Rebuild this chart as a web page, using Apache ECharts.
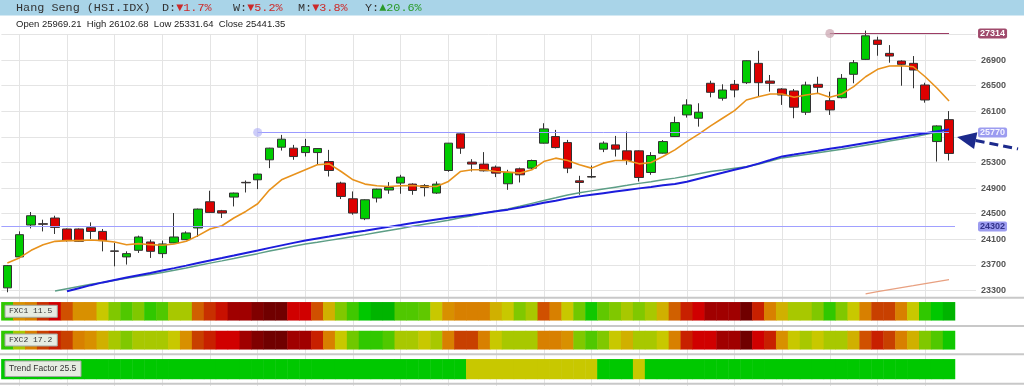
<!DOCTYPE html>
<html><head><meta charset="utf-8">
<script src="https://cdn.jsdelivr.net/npm/echarts@6/dist/echarts.min.js"></script>
<style>html,body{margin:0;padding:0;background:#fff;overflow:hidden}#c{width:1024px;height:386px}</style>
</head><body><div id="c"></div>
<script>
// ---------- DATA ----------
const categories = Array.from({length: 80}, (_, i) => 'D' + (i + 1));
const opens = [23343,23826,24324,24345,24433,24262,24262,24282,24224,23920,
  23826,23929,24059,23877,24044,24095,24278,24687,24547,24760,
  24990,25030,25342,25539,25524,25455,25455,25315,24979,24734,
  24422,24745,24870,24979,24963,24941,24823,25175,25747,25306,
  25275,25228,24968,25201,25212,25602,25705,25611,25014,25081,
  25508,25575,25482,25482,25144,25446,25705,26043,25991,26537,
  26303,26521,26546,26848,26572,26448,26417,26085,26521,26265,
  26312,26677,26910,27211,27004,26884,26848,26510,25627,25969.21];
const closes = [23690,24173,24469,24335,24287,24080,24069,24224,24080,23913,
  23877,24137,23913,24028,24137,24200,24573,24521,24511,24823,
  24983,25119,25524,25664,25393,25549,25518,25175,24770,24511,
  24718,24885,24910,25072,24863,24910,24963,25602,25524,25275,
  25170,25134,25144,25108,25331,25825,25533,25212,24988,25072,
  25602,25508,25331,25066,25409,25627,25923,26199,26085,26396,
  26432,26432,26889,26546,26537,26354,26163,26510,26474,26121,
  26614,26858,27278,27144,26962,26833,26744,26276,25871,25441.35];
const lows = [23274,23810,24271,24224,24184,24065,24060,24106,23913,23679,
  23706,23888,23810,23810,24040,24090,24137,24515,24433,24614,
  24832,24885,25212,25486,25342,25393,25264,25081,24729,24485,
  24400,24676,24812,24812,24796,24770,24810,25155,25435,25159,
  25159,25072,24874,24988,25186,25595,25520,25134,24796,25056,
  25462,25393,25264,25003,25108,25440,25700,26001,25860,26318,
  26266,26318,26525,26328,26406,26199,25991,26043,26381,26043,
  26300,26537,26900,26967,26858,26499,26459,26234,25315,25331.64];
const highs = [23700,24225,24527,24407,24469,24270,24270,24365,24262,24044,
  23913,24158,24095,24080,24511,24225,24580,24859,24560,24830,
  25019,25125,25530,25731,25575,25669,25525,25497,25000,24848,
  24725,24890,24994,25108,24975,24963,25003,25605,25755,25352,
  25462,25253,25186,25220,25345,25913,25809,25653,25092,25253,
  25630,25715,25783,25490,25462,25650,26016,26287,26225,26577,
  26521,26588,26895,27044,26666,26460,26448,26562,26639,26406,
  26681,26900,27360,27263,27133,26895,26962,26545,25880,26102.68];
const maShort = [23732,23810,23929,24017,24069,24080,24080,24090,24080,24059,
  24017,24033,24017,24007,24028,24069,24158,24262,24313,24433,
  24536,24656,24874,25030,25108,25186,25264,25279,25159,25030,
  24963,24937,24926,24937,24941,24926,24926,25004,25159,25186,
  25186,25159,25150,25134,25186,25315,25368,25331,25264,25212,
  25290,25331,25331,25279,25300,25393,25497,25627,25742,25871,
  25991,26110,26276,26328,26370,26370,26318,26354,26381,26318,
  26370,26484,26639,26755,26806,26811,26795,26639,26459,26261];
const maBlue = [null,null,null,null,null,23290,23338,23385,23428,23466,
  23503,23540,23576,23614,23651,23690,23731,23770,23808,23847,
  23888,23927,23967,24006,24045,24081,24112,24143,24175,24206,
  24235,24265,24295,24324,24354,24383,24411,24436,24461,24486,
  24513,24538,24564,24598,24634,24670,24704,24740,24771,24796,
  24821,24846,24871,24896,24919,24943,24966,25000,25047,25094,
  25139,25186,25231,25282,25338,25395,25424,25454,25483,25513,
  25542,25574,25605,25636,25667,25697,25728,25758,25787,25815];
const maTeal = [null,null,null,null,23294,23329,23364,23399,23426,23460,
  23491,23523,23553,23584,23618,23654,23692,23729,23764,23800,
  23840,23877,23917,23955,23992,24026,24054,24084,24114,24144,
  24174,24207,24240,24271,24303,24335,24366,24400,24436,24470,
  24508,24543,24576,24618,24662,24706,24748,24791,24827,24857,
  24886,24915,24944,24974,25000,25029,25056,25089,25125,25161,
  25184,25209,25233,25274,25322,25372,25398,25424,25452,25480,
  25508,25538,25571,25602,25634,25666,25697,25736,25776,25815];
const maSlow = [null,null,null,null,null,null,null,null,null,null,
  null,null,null,null,null,null,null,null,null,null,
  null,null,null,null,null,null,null,null,null,null,
  null,null,null,null,null,null,null,null,null,null,
  null,null,null,null,null,null,null,null,null,null,
  null,null,null,null,null,null,null,null,null,null,
  null,null,null,null,null,null,null,null,null,null,
  null,null,23250,23283,23315,23347,23378,23410,23441,23472];
const yTicks = [23300,23700,24100,24500,24900,25300,25700,26100,26500,26900,27300];
const yTickLabels = [23300,23700,24100,24500,24900,25300,26100,26500,26900];
const xGridTicks = [1,5,9,13,17,21,25,29,33,37,41,45,49,53,57,61,65,69,73,77];
const levelMax = 27314, levelMaxFrom = 69;
const levelRes = 25770, levelResFrom = 21;
const levelSup = 24302;
const arrowTarget = 25700;
// heat levels (index into palette: 0 = green ... 24 = dark red)
const fxc1 = [3,12,13,18,21,16,12,12,10,8, 5,8,3,5,9,9,15,18,20,22,
  22,23,24,24,21,21,16,11,8,4, 1,0,0,5,5,6,10,12,13,13,
  13,11,10,8,9,16,13,10,7,2, 6,8,9,8,9,11,15,19,21,22,
  22,22,24,19,13,11,9,9,8,3, 8,10,13,17,17,13,10,3,1,0];
const fxc2 = [3,9,13,17,19,17,13,12,11,9, 8,9,9,9,10,12,17,19,21,21,
  22,23,24,24,22,22,19,13,10,7, 3,3,5,9,9,10,9,13,17,17,
  13,10,9,9,9,13,13,12,8,5, 8,10,11,9,9,10,13,19,21,21,
  22,22,24,21,19,12,10,9,10,9, 9,11,16,19,17,13,11,8,5,2];
const trend = [1,1,1,1,1,1,1,1,1,1, 1,1,1,1,1,1,1,1,1,1,
  1,1,1,1,1,1,1,1,1,1, 1,1,1,1,1,1,1,1,1,10,
  10,10,10,10,10,10,10,10,10,10, 1,1,1,10,1,1,1,1,1,1,
  1,1,1,1,1,1,1,1,1,1, 1,1,1,1,1,1,1,1,1,1];
const headerName = 'Hang Seng (HSI.IDX)';
const headerStats = [['D:', '▼1.7%', false], ['W:', '▼5.2%', false], ['M:', '▼3.8%', false], ['Y:', '▲20.6%', true]];
const ohlcText = 'Open 25969.21  High 26102.68  Low 25331.64  Close 25441.35';
const rowLabels = ['FXC1 11.5', 'FXC2 17.2', 'Trend Factor 25.5'];

// ---------- STYLE ----------
const heatPalette = ['#00b400','#00c800','#10c800','#30c800','#40c800','#50c800','#60c800','#70c800','#80c800','#a8c800',
  '#c8c800','#d0b000','#d89000','#d88000','#d87000','#d06000','#d05000','#c84000','#c83000','#c82000',
  '#c81000','#d00000','#a00000','#800000','#700000'];
const gridColor = '#e4e4e4';
const L = 1.4, W = 953.6;

const chart = echarts.init(document.getElementById('c'), null, {renderer: 'canvas', width: 1024, height: 386});

const candleData = opens.map((o, i) => [o, closes[i], lows[i], highs[i]]);
const heat = arr => arr.map((v, i) => [i, 0, v]);
const boxLabel = (txt, bg, fg, dist) => ({
  show: true, position: 'end', distance: dist, formatter: String(txt), backgroundColor: bg, color: fg,
  padding: [1, 2, 0, 2], borderRadius: 2, fontSize: 9, fontWeight: 'bold', fontFamily: 'Liberation Sans'
});

const option = {
  animation: false,
  grid: [
    {left: L, top: 28, width: W, height: 269, outerBoundsMode: 'none'},
    {left: L, top: 28, width: 974.6, height: 269, outerBoundsMode: 'none'},
    {left: L, top: 34.4, width: W, height: 351.6, outerBoundsMode: 'none'},
    {left: L, top: 302.3, width: W, height: 18, outerBoundsMode: 'none'},
    {left: L, top: 331, width: W, height: 18.3, outerBoundsMode: 'none'},
    {left: L, top: 359.3, width: W, height: 19.7, outerBoundsMode: 'none'}
  ],
  xAxis: [
    {gridIndex: 0, type: 'category', data: categories, boundaryGap: true, show: false},
    {gridIndex: 1, type: 'value', min: 0, max: 1, show: false},
    {gridIndex: 2, type: 'value', min: -0.5, max: 79.5, axisLine: {show: false}, axisLabel: {show: false},
      axisTick: {show: false, customValues: xGridTicks}, splitLine: {show: true, lineStyle: {color: gridColor, width: 1}}},
    {gridIndex: 3, type: 'category', data: categories, show: false},
    {gridIndex: 4, type: 'category', data: categories, show: false},
    {gridIndex: 5, type: 'category', data: categories, show: false}
  ],
  yAxis: [
    {gridIndex: 0, type: 'value', min: 23200, max: 27400, show: false},
    {gridIndex: 1, type: 'value', min: 23200, max: 27400, position: 'right', axisLine: {show: false},
      axisTick: {show: false, customValues: yTicks},
      axisLabel: {customValues: yTickLabels, formatter: v => String(v), margin: 5, fontSize: 9, fontWeight: 'bold', color: '#555', fontFamily: 'Liberation Sans'},
      splitLine: {show: true, lineStyle: {color: gridColor, width: 1}}},
    {gridIndex: 2, type: 'value', min: 0, max: 1, show: false},
    {gridIndex: 3, type: 'category', data: ['FXC1'], show: false},
    {gridIndex: 4, type: 'category', data: ['FXC2'], show: false},
    {gridIndex: 5, type: 'category', data: ['Trend'], show: false}
  ],
  visualMap: [{type: 'continuous', show: false, seriesIndex: [5, 6, 7], dimension: 2, min: 0, max: 24,
    inRange: {color: heatPalette}}],
  series: [
    {type: 'candlestick', xAxisIndex: 0, yAxisIndex: 0, data: candleData, barWidth: 9, z: 3,
      itemStyle: {color: '#00cc00', color0: '#dd0000', borderColor: '#333', borderColor0: '#333', borderWidth: 1},
      markLine: {silent: true, symbol: ['none', 'none'], animation: false, z: 5,
        data: [
          [{coord: [levelMaxFrom, levelMax], lineStyle: {color: '#9c3c64', width: 1, type: 'solid'},
            label: boxLabel(levelMax, '#a04a6c', '#ffffff', 29)},
           {coord: [79, levelMax]}],
          [{coord: [levelResFrom, levelRes], lineStyle: {color: '#9a9aff', width: 1, type: 'solid'},
            label: boxLabel(levelRes, '#9c9cf0', '#f4f4ff', 29)},
           {coord: [79, levelRes]}],
          {yAxis: levelSup, lineStyle: {color: '#a0a0ff', width: 1, type: 'solid'},
            label: boxLabel(levelSup, '#9c9cf0', '#33338a', 23)}
        ]}},
    {type: 'line', xAxisIndex: 0, yAxisIndex: 0, data: maShort, showSymbol: false, z: 4,
      lineStyle: {color: '#e8921c', width: 1.6}},
    {type: 'line', xAxisIndex: 0, yAxisIndex: 0, data: maTeal, showSymbol: false, z: 4,
      lineStyle: {color: '#5c9e86', width: 1.5}},
    {type: 'line', xAxisIndex: 0, yAxisIndex: 0, data: maBlue, showSymbol: false, z: 4,
      lineStyle: {color: '#1c1cdc', width: 2}},
    {type: 'line', xAxisIndex: 0, yAxisIndex: 0, data: maSlow, showSymbol: false, z: 4,
      lineStyle: {color: '#e8a080', width: 1.2}},
    {type: 'heatmap', xAxisIndex: 3, yAxisIndex: 3, data: heat(fxc1)},
    {type: 'heatmap', xAxisIndex: 4, yAxisIndex: 4, data: heat(fxc2)},
    {type: 'heatmap', xAxisIndex: 5, yAxisIndex: 5, data: heat(trend)},
    {type: 'scatter', xAxisIndex: 0, yAxisIndex: 0, symbolSize: 9, z: 6, silent: true,
      data: [
        {value: [levelMaxFrom, levelMax], itemStyle: {color: 'rgba(200,160,172,0.85)'}},
        {value: [levelResFrom, levelRes], itemStyle: {color: 'rgba(175,175,245,0.8)'}}
      ]}
  ]
};
chart.setOption(option);

// ---------- annotations ----------
const g = [];
g.push({type: 'rect', shape: {x: 0, y: 0, width: 1024, height: 15.5}, style: {fill: '#a9d4e8'}, z: 100});
const monoFont = '11.8px "Liberation Mono", monospace';
g.push({type: 'text', z: 101, style: {x: 16, y: 8, text: headerName, font: monoFont, fill: '#333', verticalAlign: 'middle'}});
const statX = [162, 233, 298, 365];
headerStats.forEach((s, k) => {
  g.push({type: 'text', z: 101, style: {x: statX[k], y: 8, verticalAlign: 'middle',
    text: '{a|' + s[0] + '}{b|' + s[1] + '}',
    rich: {a: {font: monoFont, fill: '#333'}, b: {font: monoFont, fill: s[2] ? '#2a9a2a' : '#cc2a2a'}}}});
});
g.push({type: 'text', z: 101, style: {x: 16, y: 24, text: ohlcText, font: '9.5px "Liberation Sans", Arial', fill: '#222', verticalAlign: 'middle'}});
// separators
[297.7, 326, 354.3, 383.7].forEach(yy => {
  g.push({type: 'line', z: 90, shape: {x1: 0, y1: yy, x2: 1024, y2: yy}, style: {stroke: '#c8c8c8', lineWidth: 2}});
});
// row labels
const rowBoxes = [[305.3, 52.3, 12, '8px "Liberation Mono", monospace'], [334, 52.3, 12, '8px "Liberation Mono", monospace'], [361, 76, 15.5, '8.5px "Liberation Sans", Arial']];
rowBoxes.forEach((b, k) => {
  g.push({type: 'rect', z: 110, shape: {x: 5, y: b[0], width: b[1], height: b[2]}, style: {fill: '#e6ece2', stroke: '#a0a8a0', lineWidth: 1}});
  g.push({type: 'text', z: 111, style: {x: 9, y: b[0] + b[2] / 2, text: rowLabels[k], font: b[3], fill: '#333', verticalAlign: 'middle'}});
});
// arrow
const tp = chart.convertToPixel({xAxisIndex: 0, yAxisIndex: 0}, [79, arrowTarget]);
const tip = [tp[0] + 8, tp[1]];
const dx = 61, dy = 12, len = Math.hypot(dx, dy), ux = dx / len, uy = dy / len;
const HL = 19, HW = 8.5;
g.push({type: 'polygon', z: 120, shape: {points: [tip,
  [tip[0] + ux * HL - uy * HW, tip[1] + uy * HL + ux * HW],
  [tip[0] + ux * HL + uy * HW, tip[1] + uy * HL - ux * HW]]}, style: {fill: '#1c2a8c'}});
g.push({type: 'line', z: 120, shape: {x1: tip[0] + ux * HL, y1: tip[1] + uy * HL, x2: tip[0] + dx, y2: tip[1] + dy},
  style: {stroke: '#1c2a8c', lineWidth: 3, lineDash: [9, 5]}});
chart.setOption({graphic: g});
</script></body></html>
